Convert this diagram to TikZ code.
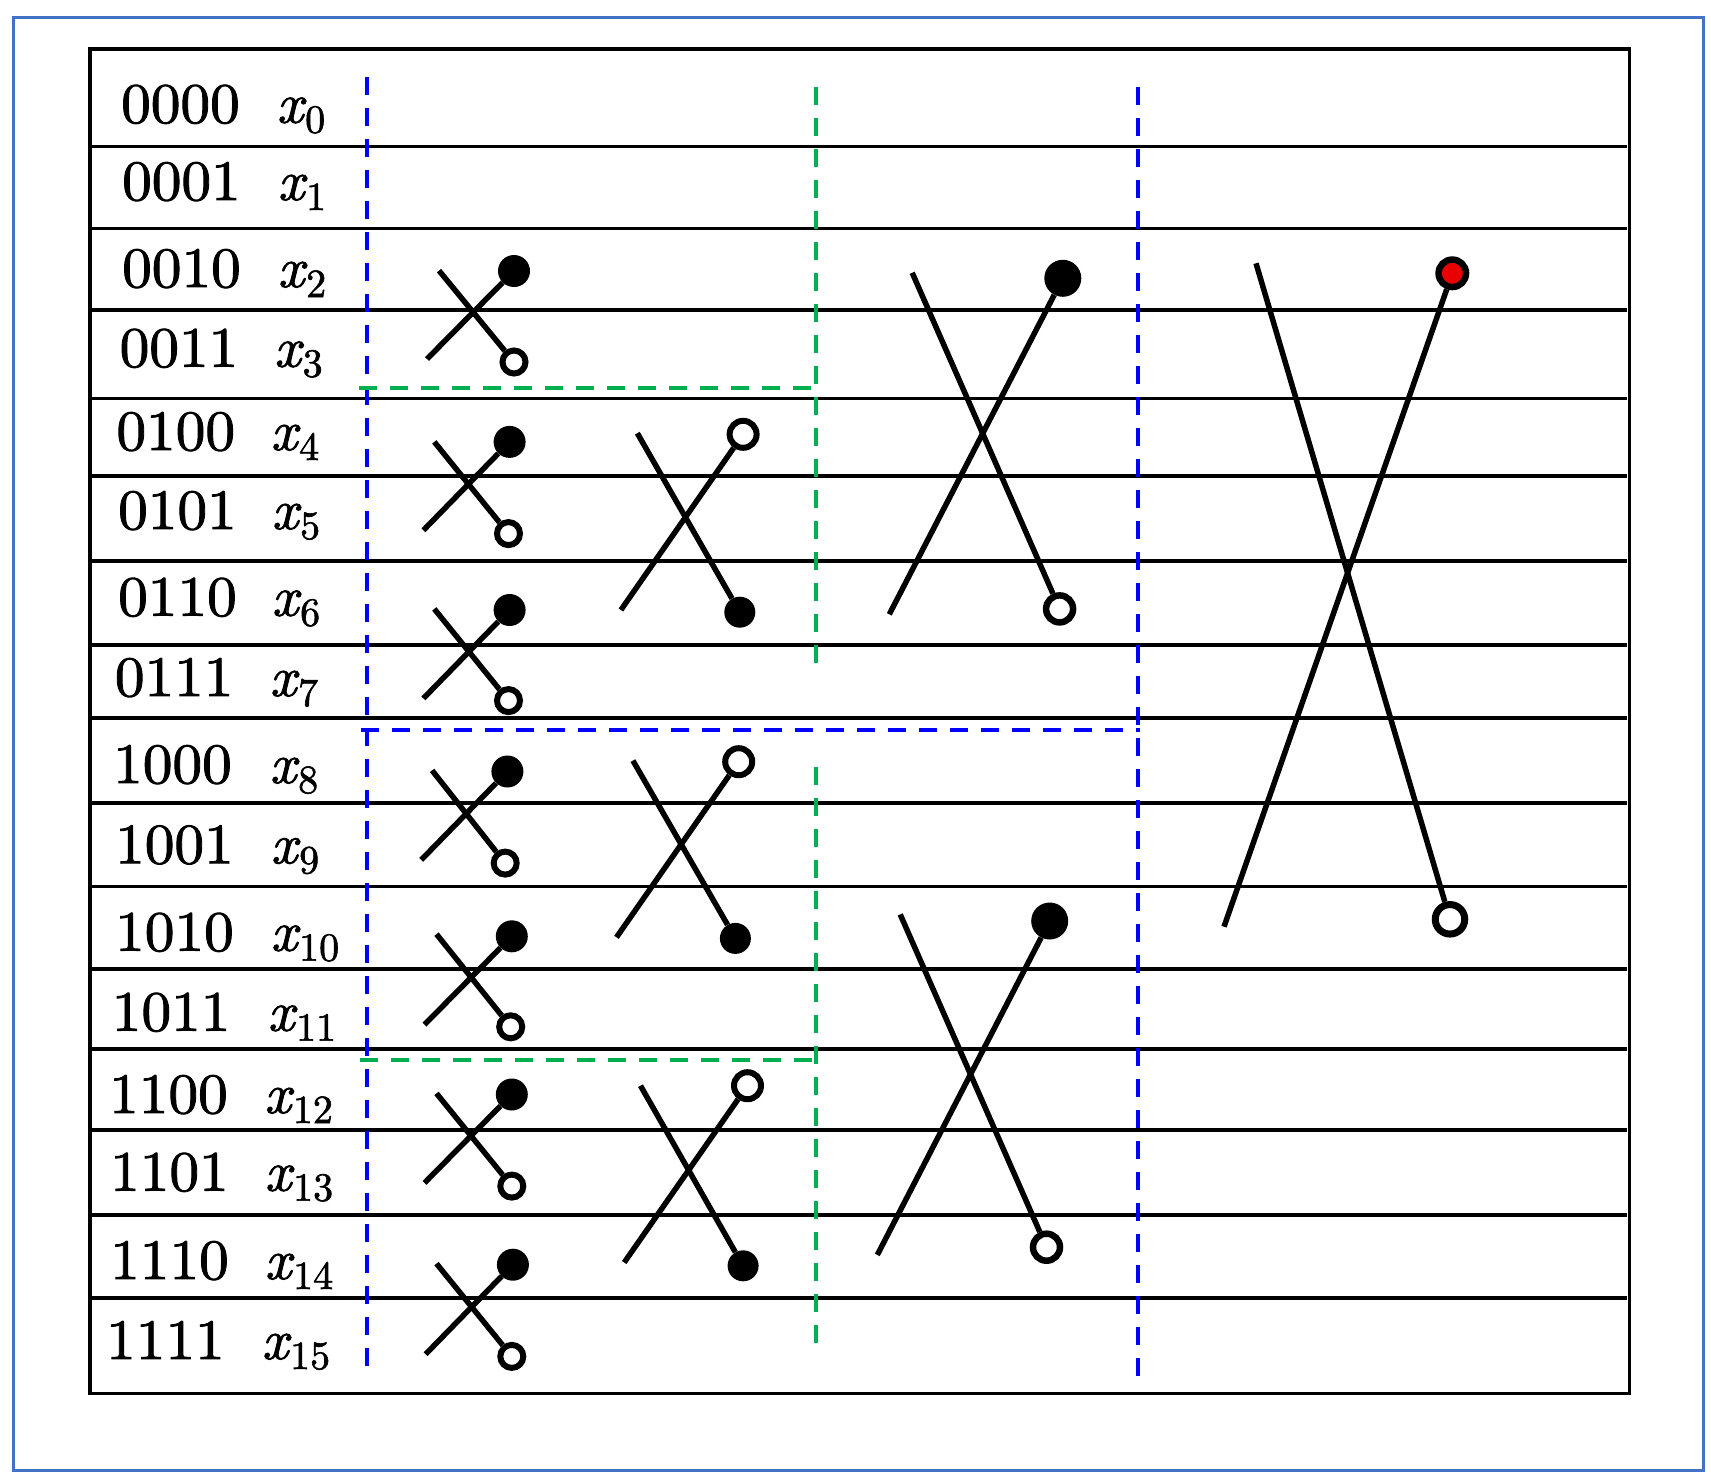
\documentclass[tikz,border=0pt]{standalone}
\usepackage{fontspec}
\newfontfamily\lblfont{lmroman10-regular.otf}[ItalicFont=lmroman10-italic.otf, FakeBold=1.5]
\definecolor{dblue}{RGB}{0,0,255}
\definecolor{dgreen}{RGB}{0,176,80}
\definecolor{frameblue}{RGB}{68,114,196}
\definecolor{dotred}{RGB}{235,0,0}
\newcommand{\myxs}[1]{{\itshape x}\kern2pt\raisebox{-10pt}{\fontsize{40}{40}\selectfont #1}}
\newcommand{\mynum}[1]{\scalebox{1.04}[1]{#1}}
\begin{document}
\begin{tikzpicture}[x=1pt,y=-1pt,
  rowline/.style={line width=3.2pt},
  tableframe/.style={line width=3.7pt},
  bdash/.style={draw=dblue, line width=4pt, dash pattern=on 18pt off 13pt},
  gdash/.style={draw=dgreen, line width=4.3pt, dash pattern=on 18pt off 13pt},
  wire/.style={line width=5.5pt},
  fdot/.style={circle, fill=black, inner sep=0pt, minimum size=#1},
  odot/.style={circle, draw=black, fill=white, line width=6pt, inner sep=0pt, minimum size=#1},
  rdot/.style={circle, draw=black, fill=dotred, line width=6.5pt, inner sep=0pt, minimum size=#1},
  lbl/.style={anchor=base west, inner sep=0pt, font=\lblfont\fontsize{57}{60}\selectfont}]
\useasboundingbox[fill=white] (0,0) rectangle (1711,1480);
% outer frame
\draw[frameblue, line width=3pt] (13,17.5) rectangle (1703,1470);
% table
\draw[tableframe] (90,49) rectangle (1629.5,1393.5);
\foreach \yy in {146.5,228.5,310,398.5,476,561,645,718,803,886.5,969,1049,1130,1215,1298}
  \draw[rowline] (88,\yy) -- (1627,\yy);
% labels
\node[lbl] (n0) at (121,122.7) {\mynum{0000}};  \node[lbl] (v0) at (276.5,122.7) {\myxs{0}};
\node[lbl] (n1) at (122,200) {\mynum{0001}};    \node[lbl] (v1) at (277.5,200) {\myxs{1}};
\node[lbl] (n2) at (122,287) {\mynum{0010}};    \node[lbl] (v2) at (277.5,287) {\myxs{2}};
\node[lbl] (n3) at (119.5,366.7) {\mynum{0011}};\node[lbl] (v3) at (274,366.7) {\myxs{3}};
\node[lbl] (n4) at (116.3,450) {\mynum{0100}};  \node[lbl] (v4) at (270.5,450) {\myxs{4}};
\node[lbl] (n5) at (118,529) {\mynum{0101}};    \node[lbl] (v5) at (271.5,529) {\myxs{5}};
\node[lbl] (n6) at (118,615.7) {\mynum{0110}};  \node[lbl] (v6) at (271.5,615.7) {\myxs{6}};
\node[lbl] (n7) at (114.7,696) {\mynum{0111}};  \node[lbl] (v7) at (269.5,696) {\myxs{7}};
\node[lbl] (n8) at (113,783) {\mynum{1000}};    \node[lbl] (v8) at (269.5,783) {\myxs{8}};
\node[lbl] (n9) at (115,863.3) {\mynum{1001}};  \node[lbl] (v9) at (270.5,863.3) {\myxs{9}};
\node[lbl] (n10) at (115,950.7) {\mynum{1010}}; \node[lbl] (v10) at (270.5,950.7) {\myxs{10}};
\node[lbl] (n11) at (111.7,1030.7) {\mynum{1011}}; \node[lbl] (v11) at (267.5,1030.7) {\myxs{11}};
\node[lbl] (n12) at (109,1113) {\mynum{1100}};  \node[lbl] (v12) at (264.2,1113) {\myxs{12}};
\node[lbl] (n13) at (110,1190.7) {\mynum{1101}}; \node[lbl] (v13) at (264.5,1190.7) {\myxs{13}};
\node[lbl] (n14) at (110,1279) {\mynum{1110}};  \node[lbl] (v14) at (264.5,1279) {\myxs{14}};
\node[lbl] (n15) at (106,1359) {\mynum{1111}};  \node[lbl] (v15) at (261.5,1359) {\myxs{15}};
% dashed separators
\draw[bdash] (366.7,77) -- (366.7,1377);
\draw[bdash] (361,730) -- (1140,730);
\draw[bdash] (1138,87) -- (1138,1388);
\draw[gdash] (816,87) -- (816,668);
\draw[gdash] (359,387.7) -- (816,387.7);
\draw[gdash] (816,767) -- (816,1350);
\draw[gdash] (360,1060) -- (818,1060);
% stage 1
\node[fdot=32pt] (f1a) at (514,271) {};      \node[odot=23pt] (o1a) at (514,362) {};
\node[fdot=32pt] (f1b) at (509.6,441.9) {};  \node[odot=23pt] (o1b) at (508.5,533.6) {};
\node[fdot=32pt] (f1c) at (509.6,610) {};    \node[odot=23pt] (o1c) at (508.5,700.6) {};
\node[fdot=32pt] (f1d) at (507.4,771.5) {};  \node[odot=23pt] (o1d) at (505.2,863.1) {};
\node[fdot=32pt] (f1e) at (511.8,936.3) {};  \node[odot=23pt] (o1e) at (510.7,1026.8) {};
\node[fdot=32pt] (f1f) at (511.8,1094.5) {}; \node[odot=23pt] (o1f) at (511.8,1186.1) {};
\node[fdot=32pt] (f1g) at (512.9,1264.7) {}; \node[odot=23pt] (o1g) at (511.8,1356.4) {};
\coordinate (a1a) at (439,270.6);   \coordinate (b1a) at (427,359);
\coordinate (a1b) at (434.3,441.9); \coordinate (b1b) at (423.4,530.3);
\coordinate (a1c) at (434.3,608.9); \coordinate (b1c) at (423.4,698.4);
\coordinate (a1d) at (432.1,770.4); \coordinate (b1d) at (421.2,859.9);
\coordinate (a1e) at (436.5,934.1); \coordinate (b1e) at (424.5,1024.6);
\coordinate (a1f) at (436.5,1093.4);\coordinate (b1f) at (424.5,1182.9);
\coordinate (a1g) at (436.5,1263.6);\coordinate (b1g) at (425.6,1354.2);
\foreach \s in {a,b,c,d,e,f,g}{
  \draw[wire] (a1\s) -- (o1\s);
  \draw[wire] (b1\s) -- (f1\s);
}
% stage 2
\node[odot=27pt] (o2a) at (743.1,434.3) {};  \node[fdot=31pt] (f2a) at (739.8,612.2) {};
\node[odot=27pt] (o2b) at (738.7,761.7) {};  \node[fdot=31pt] (f2b) at (735.4,938.4) {};
\node[odot=27pt] (o2c) at (747.5,1085.7) {}; \node[fdot=31pt] (f2c) at (743.1,1265.8) {};
\coordinate (a2a) at (637.3,433.2);  \coordinate (b2a) at (620.9,610);
\coordinate (a2b) at (632.9,760.6);  \coordinate (b2b) at (616.5,937.3);
\coordinate (a2c) at (640.5,1085.7); \coordinate (b2c) at (624.2,1262.5);
\foreach \s in {a,b,c}{
  \draw[wire] (a2\s) -- (f2\s);
  \draw[wire] (b2\s) -- (o2\s);
}
% stage 3
\node[fdot=37pt] (f3a) at (1062.8,278.3) {}; \node[odot=27pt, line width=6.5pt] (o3a) at (1059.6,608.9) {};
\node[fdot=37pt] (f3b) at (1049.7,921) {};   \node[odot=27pt, line width=6.5pt] (o3b) at (1046.5,1247.2) {};
\coordinate (a3a) at (912.2,272.8); \coordinate (b3a) at (889.3,614.3);
\coordinate (a3b) at (900.2,914.4); \coordinate (b3b) at (877.3,1254.9);
\foreach \s in {a,b}{
  \draw[wire] (a3\s) -- (o3\s);
  \draw[wire] (b3\s) -- (f3\s);
}
% stage 4
\node[rdot=27.5pt] (r4) at (1452.3,273.3) {};
\node[odot=29.5pt, line width=7pt] (o4) at (1450,919.3) {};
\coordinate (a4) at (1256,263.3);
\coordinate (b4) at (1224,926.7);
\draw[wire] (a4) -- (o4);
\draw[wire] (b4) -- (r4);
\end{tikzpicture}
\end{document}
